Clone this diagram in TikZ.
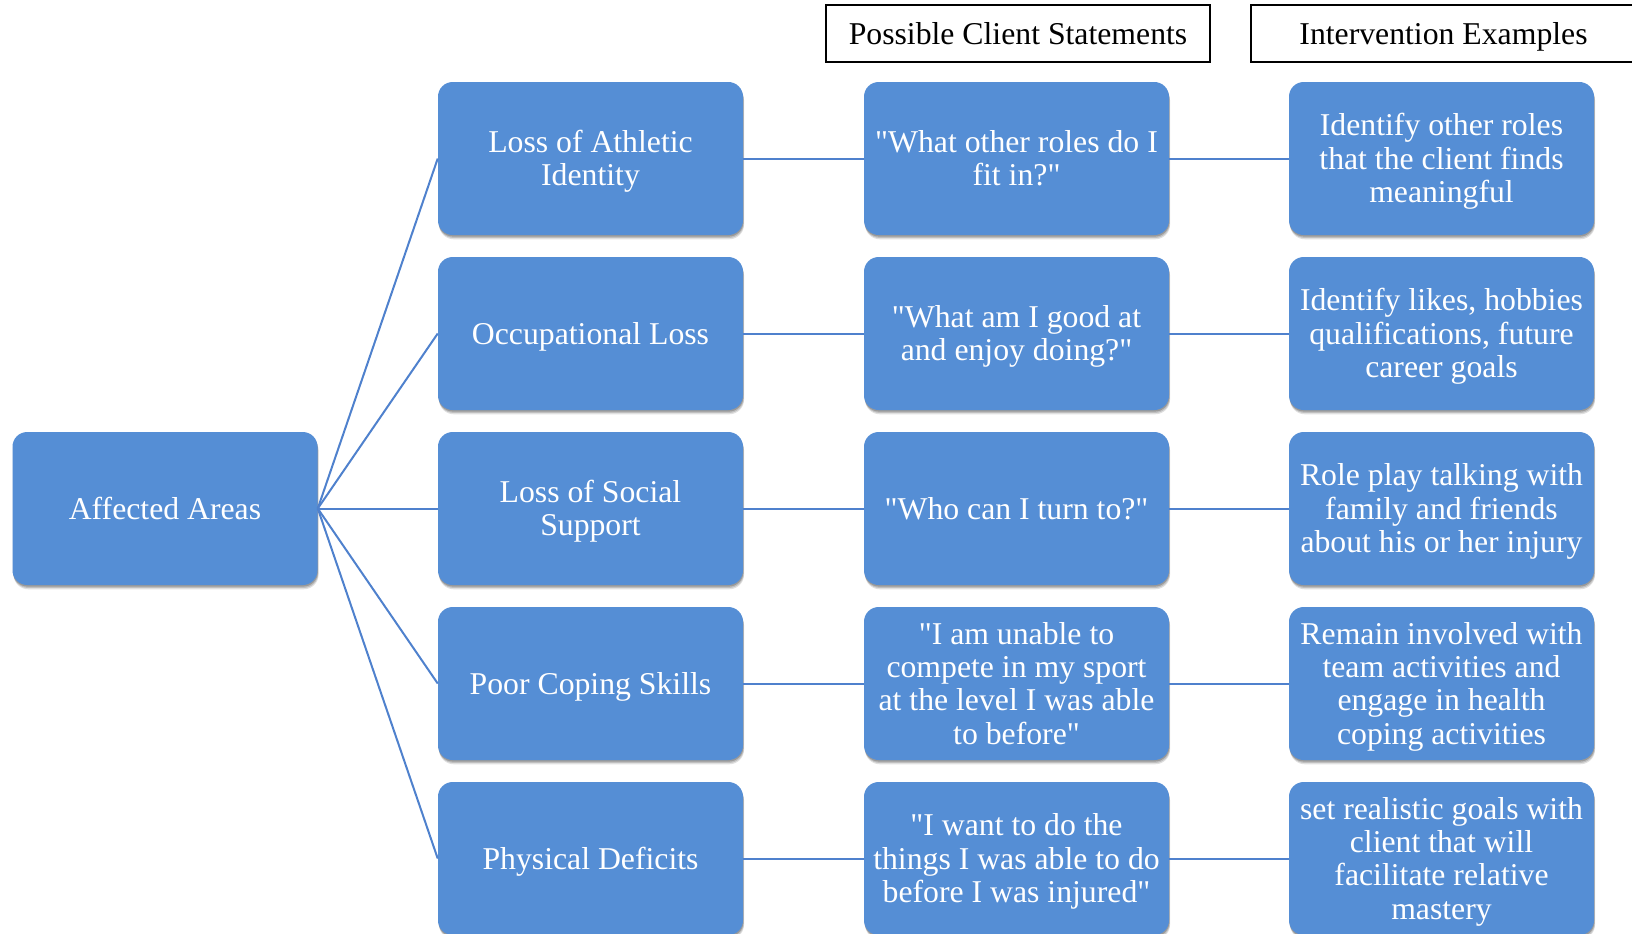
\documentclass[tikz,border=0pt]{standalone}
\usepackage{fontspec}
\setmainfont{Liberation Serif}[Ligatures=TeXOff]
\usetikzlibrary{shadows}
\definecolor{boxblue}{RGB}{85,142,213}
\definecolor{linkblue}{RGB}{79,129,205}
% centred block of lines, lowered so the letters sit in the middle of the box
\newcommand\tx[1]{\raisebox{-3pt}[\height][\depth]{\begin{tabular}{@{}c@{}}#1\end{tabular}}}

\begin{document}
\begin{tikzpicture}[x=0.75pt,y=-0.75pt,
  area/.style={rectangle, rounded corners=11pt, fill=boxblue, draw=none,
    minimum width=228.75pt, minimum height=114.75pt, inner xsep=2pt, inner ysep=0pt,
    text=white, font=\fontsize{23.8}{25}\selectfont,
    drop shadow={shadow xshift=0.8pt, shadow yshift=-3.2pt, opacity=0.12, fill=black},
    drop shadow={shadow xshift=0.6pt, shadow yshift=-2.2pt, opacity=0.15, fill=black},
    drop shadow={shadow xshift=0.3pt, shadow yshift=-1.2pt, opacity=0.2, fill=black}},
  head/.style={rectangle, draw=black, line width=1.4pt, fill=white,
    minimum width=288pt, minimum height=42.75pt, inner sep=0pt,
    font=\fontsize{23.8}{25}\selectfont},
  link/.style={draw=linkblue, line width=1.5pt}]

\useasboundingbox (0,0) rectangle (1632,933);

% column headings
\node[head] (hstate) at (1018,33.5) {\tx{Possible Client Statements}};
\node[head, minimum width=288.75pt] (hinter) at (1443.5,33.5) {\tx{Intervention Examples}};

% root
\node[area] (root) at (165,508.5) {\tx{Affected Areas}};

% affected areas
\node[area] (a1) at (590.5,158.5) {\tx{Loss of Athletic\\Identity}};
\node[area] (a2) at (590.5,333.5) {\tx{Occupational Loss}};
\node[area] (a3) at (590.5,508.5) {\tx{Loss of Social\\Support}};
\node[area] (a4) at (590.5,683.5) {\tx{Poor Coping Skills}};
\node[area] (a5) at (590.5,858.5) {\tx{Physical Deficits}};

% client statements
\node[area] (s1) at (1016.5,158.5) {\tx{"What other roles do I\\fit in?"}};
\node[area] (s2) at (1016.5,333.5) {\tx{"What am I good at\\and enjoy doing?"}};
\node[area] (s3) at (1016.5,508.5) {\tx{"Who can I turn to?"}};
\node[area] (s4) at (1016.5,683.5) {\tx{"I am unable to\\compete in my sport\\at the level I was able\\to before"}};
\node[area] (s5) at (1016.5,858.5) {\tx{"I want to do the\\things I was able to do\\before I was injured"}};

% interventions
\node[area] (i1) at (1441.5,158.5) {\tx{Identify other roles\\that the client finds\\meaningful}};
\node[area] (i2) at (1441.5,333.5) {\tx{Identify likes, hobbies\\qualifications, future\\career goals}};
\node[area] (i3) at (1441.5,508.5) {\tx{Role play talking with\\family and friends\\about his or her injury}};
\node[area] (i4) at (1441.5,683.5) {\tx{Remain involved with\\team activities and\\engage in health\\coping activities}};
\node[area] (i5) at (1441.5,858.5) {\tx{set realistic goals with\\client that will\\facilitate relative\\mastery}};

% connectors
\foreach \k in {1,...,5}{
  \draw[link] (root.east) -- (a\k.west);
  \draw[link] (a\k.east) -- (s\k.west);
  \draw[link] (s\k.east) -- (i\k.west);
}
\end{tikzpicture}
\end{document}
